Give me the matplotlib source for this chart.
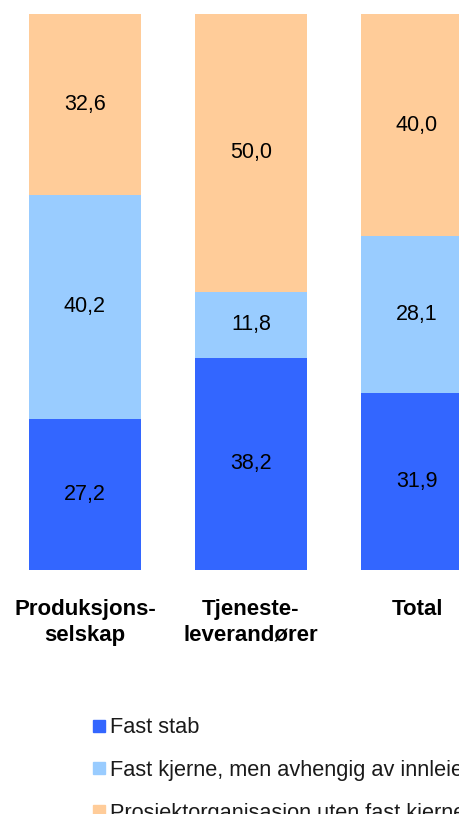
import numpy as np
import matplotlib.pyplot as plt
from matplotlib.lines import Line2D

plt.rcParams['font.family'] = ['Liberation Sans', 'DejaVu Sans']

# Data
kategorier = ['Produksjons-\nselskap', 'Tjeneste-\nleverandører', 'Total']
fast_stab = [27.2, 38.2, 31.9]
fast_kjerne = [40.2, 11.8, 28.1]
prosjekt = [32.6, 50.0, 40.0]
serier = ['Fast stab',
          'Fast kjerne, men avhengig av innleie',
          'Prosjektorganisasjon uten fast kjerne']
farger = ['#3366FF', '#99CCFF', '#FFCC99']

fig = plt.figure(figsize=(4.6, 8.14), dpi=100)
ax = fig.add_axes([0.0, 0.2998, 1.0, 0.6831])

x = np.arange(len(kategorier))
w = 0.67
bunn = np.zeros(len(kategorier))
for verdier, farge in zip([fast_stab, fast_kjerne, prosjekt], farger):
    verdier = np.array(verdier)
    ax.bar(x, verdier, w, bottom=bunn, color=farge, edgecolor='none')
    for xi, b, v in zip(x, bunn, verdier):
        ax.text(xi, b + v / 2, f'{v:.1f}'.replace('.', ','),
                ha='center', va='center', fontsize=15.5, color='black')
    bunn += verdier

ax.set_xlim(-0.512, 2.259)
ax.set_ylim(0, 100)
ax.set_xticks(x)
ax.set_xticklabels(kategorier, fontsize=16, fontweight='bold', linespacing=1.28)
ax.tick_params(axis='x', length=0, pad=21)
ax.set_yticks([])
for s in ax.spines.values():
    s.set_visible(False)

handles = [Line2D([], [], marker='s', linestyle='none', markersize=8,
                  markerfacecolor=f, markeredgecolor=f) for f in farger]
fig.legend(handles, serier, loc='upper left', bbox_to_anchor=(0.178, 0.1295),
           frameon=False, fontsize=15.7, handletextpad=0.1, handlelength=0.8,
           labelspacing=1.0, borderaxespad=0, labelcolor='#1a1a1a')

fig.savefig('out.png', dpi=100)
